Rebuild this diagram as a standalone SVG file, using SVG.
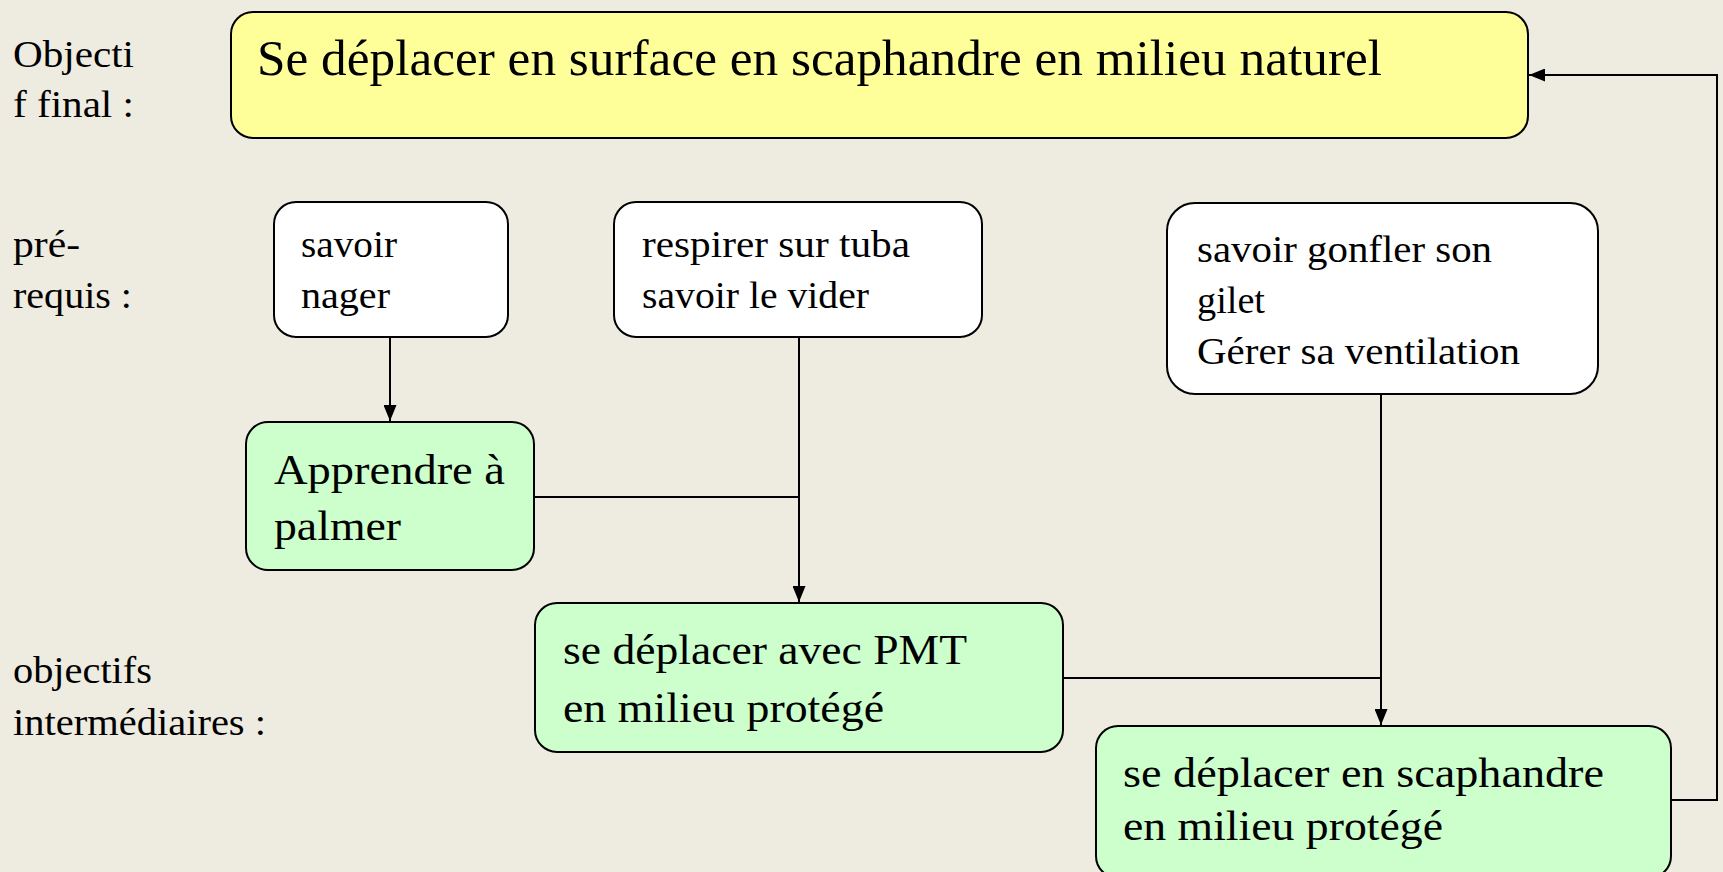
<svg xmlns="http://www.w3.org/2000/svg" width="1723" height="872" viewBox="0 0 1723 872" font-family="'Liberation Serif', 'Times New Roman', 'DejaVu Serif', serif">
<style>
text{font-family:'Liberation Serif','Times New Roman','DejaVu Serif',serif;fill:#000}
.lbl{font-size:38px}
.sm{font-size:38px}
.md{font-size:43px}
.ttl{font-size:50px}
.box{stroke:#000;stroke-width:2}
.w{fill:#fff}
.g{fill:#ccffcc}
.y{fill:#ffff99}
.c{fill:none;stroke:#000;stroke-width:2}
</style>
<defs>
<marker id="a" viewBox="0 0 16 13" refX="16" refY="6.5" markerWidth="16" markerHeight="13" markerUnits="userSpaceOnUse" orient="auto">
<path d="M0,0 L16,6.5 L0,13 z" fill="#000"/>
</marker>
</defs>
<rect width="1723" height="872" fill="#eeebe0"/>
<g id="labels">
<text class="lbl" x="13" y="67" textLength="121" lengthAdjust="spacingAndGlyphs">Objecti</text>
<text class="lbl" x="13" y="117" textLength="121" lengthAdjust="spacingAndGlyphs">f final :</text>
<text class="lbl" x="13" y="257" textLength="67" lengthAdjust="spacingAndGlyphs">pré-</text>
<text class="lbl" x="13" y="308" textLength="119" lengthAdjust="spacingAndGlyphs">requis :</text>
<text class="lbl" x="13" y="683" textLength="139" lengthAdjust="spacingAndGlyphs">objectifs</text>
<text class="lbl" x="13" y="735" textLength="253" lengthAdjust="spacingAndGlyphs">intermédiaires :</text>
</g>
<g id="connectors">
<path class="c" d="M390,337 V421" marker-end="url(#a)"/>
<path class="c" d="M799,337 V602" marker-end="url(#a)"/>
<path class="c" d="M535,497 H799"/>
<path class="c" d="M1381,394 V725" marker-end="url(#a)"/>
<path class="c" d="M1064,678 H1381"/>
<path class="c" d="M1672,800 H1717 V75 H1529" marker-end="url(#a)"/>
</g>
<g id="final">
<rect class="box y" x="231" y="12" width="1297" height="126" rx="22"/>
<text class="ttl" x="257" y="75" textLength="1125" lengthAdjust="spacingAndGlyphs">Se déplacer en surface en scaphandre en milieu naturel</text>
</g>
<g id="nager">
<rect class="box w" x="274" y="202" width="234" height="135" rx="22"/>
<text class="sm" x="301" y="257" textLength="96" lengthAdjust="spacingAndGlyphs">savoir</text>
<text class="sm" x="301" y="308" textLength="89" lengthAdjust="spacingAndGlyphs">nager</text>
</g>
<g id="tuba">
<rect class="box w" x="614" y="202" width="368" height="135" rx="22"/>
<text class="sm" x="642" y="257" textLength="268" lengthAdjust="spacingAndGlyphs">respirer sur tuba</text>
<text class="sm" x="642" y="308" textLength="227" lengthAdjust="spacingAndGlyphs">savoir le vider</text>
</g>
<g id="gilet">
<rect class="box w" x="1167" y="203" width="431" height="191" rx="28"/>
<text class="sm" x="1197" y="262" textLength="295" lengthAdjust="spacingAndGlyphs">savoir gonfler son</text>
<text class="sm" x="1197" y="313" textLength="68" lengthAdjust="spacingAndGlyphs">gilet</text>
<text class="sm" x="1197" y="364" textLength="323" lengthAdjust="spacingAndGlyphs">Gérer sa ventilation</text>
</g>
<g id="palmer">
<rect class="box g" x="246" y="422" width="288" height="148" rx="22"/>
<text class="md" x="274" y="484" textLength="231" lengthAdjust="spacingAndGlyphs">Apprendre à</text>
<text class="md" x="274" y="540" textLength="127" lengthAdjust="spacingAndGlyphs">palmer</text>
</g>
<g id="pmt">
<rect class="box g" x="535" y="603" width="528" height="149" rx="22"/>
<text class="md" x="563" y="664" textLength="404" lengthAdjust="spacingAndGlyphs">se déplacer avec PMT</text>
<text class="md" x="563" y="722" textLength="321" lengthAdjust="spacingAndGlyphs">en milieu protégé</text>
</g>
<g id="scaphandre">
<rect class="box g" x="1096" y="726" width="575" height="152" rx="22"/>
<text class="md" x="1123" y="787" textLength="481" lengthAdjust="spacingAndGlyphs">se déplacer en scaphandre</text>
<text class="md" x="1123" y="840" textLength="320" lengthAdjust="spacingAndGlyphs">en milieu protégé</text>
</g>
</svg>
